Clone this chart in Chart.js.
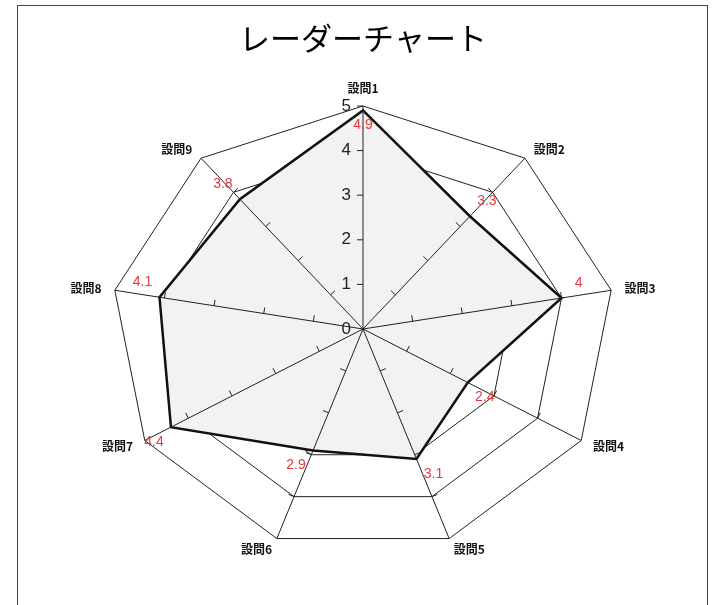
<!DOCTYPE html>
<html>
<head>
<meta charset="utf-8">
<script src="https://cdn.jsdelivr.net/npm/chart.js@4.4.1/dist/chart.umd.min.js"></script>
<style>
html, body { margin: 0; padding: 0; background: #fff; }
#wrap { position: relative; width: 715px; height: 605px; overflow: hidden; }
#frame { position: absolute; left: 17px; top: 5px; width: 689px; height: 640px; border: 1px solid #444; }
#radarChart { position: absolute; left: 0; top: 0; }
</style>
</head>
<body>
<div id="wrap">
    <div id="frame"></div>
    <canvas id="radarChart" width="715" height="605"></canvas>
</div>
<script>
// データ
const questionLabels = ['設問1', '設問2', '設問3', '設問4', '設問5', '設問6', '設問7', '設問8', '設問9'];
const scores = [4.9, 3.3, 4, 2.4, 3.1, 2.9, 4.4, 4.1, 3.8];
const tickValues = [0, 1, 2, 3, 4, 5];

// 元の図は横に少し引き伸ばされている
const xStretch = 1.13;

// 横長のレーダー軸
class OvalRadialScale extends Chart.RadialLinearScale {
    getPointPosition(index, distance, additionalAngle = 0) {
        const p = super.getPointPosition(index, distance, additionalAngle);
        p.x = this.xCenter + (p.x - this.xCenter) * xStretch;
        return p;
    }
}
OvalRadialScale.id = 'ovalRadial';
Chart.register(OvalRadialScale);

// 軸線・目盛り・ラベルをデータの上に描く
const overlayPlugin = {
    id: 'overlay',
    afterDatasetsDraw(chart) {
        const scale = chart.scales.r;
        const ctx = chart.ctx;
        const cx = scale.xCenter;
        const cy = scale.yCenter;
        const outer = scale.getDistanceFromCenterForValue(tickValues[tickValues.length - 1]);
        ctx.save();

        // 軸線と目盛り
        ctx.strokeStyle = '#222';
        ctx.lineWidth = 1;
        questionLabels.forEach((label, i) => {
            const end = scale.getPointPosition(i, outer);
            ctx.beginPath();
            ctx.moveTo(cx, cy);
            ctx.lineTo(end.x, end.y);
            ctx.stroke();

            const len = Math.hypot(end.x - cx, end.y - cy);
            const ux = (end.x - cx) / len;
            const uy = (end.y - cy) / len;
            let nx = -uy, ny = ux;
            if (ny > 0.01 || (Math.abs(ny) <= 0.01 && nx > 0)) { nx = -nx; ny = -ny; }
            const last = i === 0 ? tickValues.length : tickValues.length - 1;
            for (let k = 1; k < last; k++) {
                const p = scale.getPointPosition(i, scale.getDistanceFromCenterForValue(tickValues[k]));
                ctx.beginPath();
                ctx.moveTo(p.x, p.y);
                ctx.lineTo(p.x + nx * 6, p.y + ny * 6);
                ctx.stroke();
            }
        });

        // 目盛りの数字
        ctx.fillStyle = '#222';
        ctx.font = '17px "Liberation Sans", Arial, sans-serif';
        ctx.textAlign = 'right';
        ctx.textBaseline = 'middle';
        tickValues.forEach(v => {
            const p = scale.getPointPosition(0, scale.getDistanceFromCenterForValue(v));
            ctx.fillText(String(v), p.x - 12, p.y);
        });

        // 設問ラベル
        ctx.fillStyle = '#111';
        ctx.font = 'bold 12px "Noto Sans CJK JP", sans-serif';
        questionLabels.forEach((label, i) => {
            const p = scale.getPointPosition(i, outer + 12);
            const dx = p.x - cx;
            const dy = p.y - cy;
            if (dx > 5) { ctx.textAlign = 'left'; ctx.textBaseline = 'middle'; }
            else if (dx < -5) { ctx.textAlign = 'right'; ctx.textBaseline = 'middle'; }
            else { ctx.textAlign = 'center'; ctx.textBaseline = dy < 0 ? 'bottom' : 'top'; }
            ctx.fillText(label, p.x, p.y);
        });

        // 値ラベル
        ctx.fillStyle = '#e8383d';
        ctx.font = '14px "Liberation Sans", Arial, sans-serif';
        ctx.textAlign = 'center';
        ctx.textBaseline = 'middle';
        scores.forEach((v, i) => {
            const p = scale.getPointPositionForValue(i, v);
            const dx = p.x - cx;
            const dy = p.y - cy;
            const sx = Math.abs(dx) > 5 ? Math.sign(dx) : 0;
            let sy = dy < 0 ? -1 : 1;
            if (v > scale.max - 0.3) sy = -sy;
            ctx.fillText(String(v), p.x + sx * 17, p.y + sy * 15);
        });
        ctx.restore();
    }
};

function initRadarChart() {
    const ctx = document.getElementById('radarChart');
    if (ctx) {
        new Chart(ctx.getContext('2d'), {
            type: 'radar',
            data: {
                labels: questionLabels,
                datasets: [{
                    label: 'スコア',
                    data: scores,
                    borderColor: '#111',
                    borderWidth: 2.5,
                    backgroundColor: '#f2f2f2',
                    fill: true,
                    pointRadius: 0,
                    pointHoverRadius: 0,
                    tension: 0
                }]
            },
            options: {
                responsive: false,
                animation: false,
                layout: {
                    padding: { top: 0, left: 100, right: 89, bottom: 52 }
                },
                plugins: {
                    legend: { display: false },
                    tooltip: { enabled: false },
                    title: {
                        display: true,
                        text: 'レーダーチャート',
                        color: '#000',
                        font: { family: '"Noto Sans CJK JP", sans-serif', size: 31, weight: 'normal', lineHeight: 1.2 },
                        padding: { top: 20, bottom: 48 }
                    }
                },
                scales: {
                    r: {
                        type: 'ovalRadial',
                        min: 0,
                        max: 5,
                        ticks: { display: false, stepSize: 1, showLabelBackdrop: false },
                        grid: { color: '#222', lineWidth: 1, circular: false },
                        angleLines: { display: false },
                        pointLabels: { display: false }
                    }
                }
            },
            plugins: [overlayPlugin]
        });
    }
}

document.addEventListener('DOMContentLoaded', function() {
    initRadarChart();
});
</script>
</body>
</html>
